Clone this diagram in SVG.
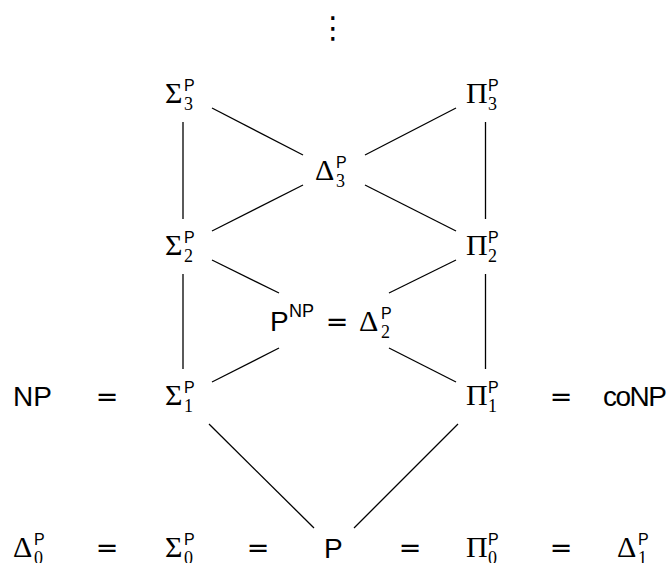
<svg xmlns="http://www.w3.org/2000/svg" width="669" height="563" viewBox="0 0 669 563">
<style>
.g{font-family:"Liberation Serif",serif;font-size:30px;fill:#000}
.s{font-family:"Liberation Sans",sans-serif;font-size:28px;fill:#000}
.sp{font-family:"Liberation Sans",sans-serif;font-size:16px;fill:#000}
.spn{font-family:"Liberation Sans",sans-serif;font-size:18px;fill:#000}
.sb{font-family:"Liberation Serif",serif;font-size:18px;fill:#000}
.eq{font-family:"DejaVu Sans",sans-serif;font-size:27px;fill:#000;text-anchor:middle}
.vd{font-family:"DejaVu Sans",sans-serif;font-size:30px;fill:#000;text-anchor:middle}
#edges line{stroke:#000;stroke-width:1.3}
</style>
<rect width="669" height="563" fill="#fff"/>
<g id="edges">
<line x1="183" y1="122" x2="183" y2="219"/>
<line x1="485.5" y1="122" x2="485.5" y2="219"/>
<line x1="212" y1="108" x2="303" y2="155"/>
<line x1="456" y1="108" x2="365" y2="155"/>
<line x1="303" y1="185" x2="212" y2="231"/>
<line x1="365" y1="185" x2="456" y2="231"/>
<line x1="183" y1="274" x2="183" y2="369"/>
<line x1="485.5" y1="274" x2="485.5" y2="369"/>
<line x1="212" y1="260" x2="279" y2="293"/>
<line x1="456" y1="260" x2="389" y2="293"/>
<line x1="279" y1="348" x2="212" y2="382"/>
<line x1="389" y1="348" x2="456" y2="382"/>
<line x1="209" y1="424" x2="314" y2="528"/>
<line x1="458" y1="424" x2="354" y2="528"/>
</g>
<g id="vdots"><text class="vd" x="333" y="38">⋮</text></g>
<g id="sigma3"><text class="g" x="165" y="103">Σ</text><text class="sp" x="184" y="91">P</text><text class="sb" x="184" y="110">3</text></g>
<g id="pi3"><text class="g" x="466" y="103">Π</text><text class="sp" x="488" y="91">P</text><text class="sb" x="488" y="110">3</text></g>
<g id="delta3"><text class="g" x="315" y="180">Δ</text><text class="sp" x="336" y="168">P</text><text class="sb" x="336" y="187">3</text></g>
<g id="sigma2"><text class="g" x="165" y="255">Σ</text><text class="sp" x="184" y="243">P</text><text class="sb" x="184" y="262">2</text></g>
<g id="pi2"><text class="g" x="466" y="255">Π</text><text class="sp" x="488" y="243">P</text><text class="sb" x="488" y="262">2</text></g>
<g id="delta2"><text class="s" x="270" y="331">P</text><text class="spn" x="289" y="317">NP</text><text class="eq" x="337" y="331">=</text><text class="g" x="359" y="331">Δ</text><text class="sp" x="381" y="319">P</text><text class="sb" x="381" y="338">2</text></g>
<g id="sigma1"><text class="s" x="13" y="406">NP</text><text class="eq" x="107" y="406">=</text><text class="g" x="165" y="405">Σ</text><text class="sp" x="184" y="393">P</text><text class="sb" x="184" y="412">1</text></g>
<g id="pi1"><text class="g" x="466" y="405">Π</text><text class="sp" x="488" y="393">P</text><text class="sb" x="488" y="412">1</text><text class="eq" x="561" y="406">=</text><text class="s" x="603" y="406" textLength="64">coNP</text></g>
<g id="p"><text class="g" x="13" y="557">Δ</text><text class="sp" x="34" y="545">P</text><text class="sb" x="34" y="564">0</text><text class="eq" x="107" y="557">=</text><text class="g" x="165" y="557">Σ</text><text class="sp" x="184" y="545">P</text><text class="sb" x="184" y="564">0</text><text class="eq" x="258" y="557">=</text><text class="s" x="324" y="558">P</text><text class="eq" x="410" y="557">=</text><text class="g" x="466" y="557">Π</text><text class="sp" x="488" y="545">P</text><text class="sb" x="488" y="564">0</text><text class="eq" x="561" y="557">=</text><text class="g" x="617" y="557">Δ</text><text class="sp" x="638" y="545">P</text><text class="sb" x="638" y="564">1</text></g>
</svg>
